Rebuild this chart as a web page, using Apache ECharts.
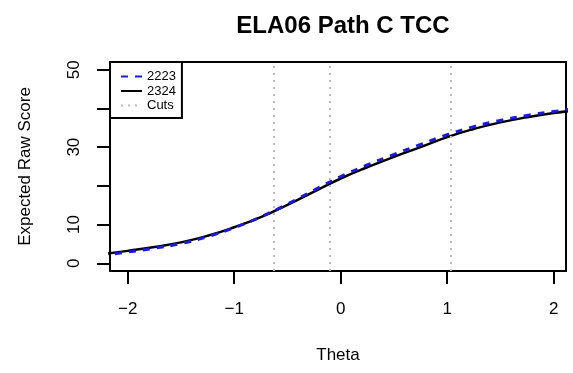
<!DOCTYPE html>
<html>
<head>
<meta charset="utf-8">
<script src="https://cdn.jsdelivr.net/npm/echarts@6/dist/echarts.min.js"></script>
<style>
html,body{margin:0;padding:0;background:#fff;}
#chart{width:573px;height:373px;}
</style>
</head>
<body>
<div id="chart"></div>
<script>
// Data
const theta = [-2.25, -2, -1.75, -1.5, -1.25, -1, -0.75, -0.5, -0.25, 0, 0.25, 0.5, 0.75, 1, 1.25, 1.5, 1.75, 2, 2.25];
const score2223 = [2.0, 2.9, 3.9, 5.1, 6.9, 9.2, 12.0, 15.3, 18.9, 22.4, 25.4, 28.1, 30.7, 33.2, 35.3, 36.9, 38.2, 39.2, 40.1];
const score2324 = [2.3, 3.2, 4.2, 5.4, 7.1, 9.3, 11.9, 15.1, 18.5, 21.9, 24.8, 27.5, 30.0, 32.6, 34.7, 36.4, 37.7, 38.8, 39.7];
const cuts = [-0.627, -0.1, 1.028];
const xTicks = [-2, -1, 0, 1, 2];
const yTicks = [0, 10, 20, 30, 40, 50];
const yTickLabels = [0, 10, 30, 50];
const seriesNames = ['2223', '2324', 'Cuts'];

const FONT = '"Liberation Sans", Arial, sans-serif';
const chart = echarts.init(document.getElementById('chart'), null, {renderer: 'canvas'});

const zip = (xs, ys) => xs.map((x, i) => [x, ys[i]]);

chart.setOption({
  animation: false,
  backgroundColor: '#fff',
  title: {
    text: 'ELA06 Path C TCC',
    left: 338, textAlign: 'center', top: 9,
    textStyle: {fontFamily: FONT, fontSize: 24, fontWeight: 'bold', color: '#000'}
  },
  grid: {
    left: 110, right: 7, top: 62, bottom: 102,
    show: true, borderColor: '#000', borderWidth: 2, backgroundColor: 'transparent'
  },
  legend: {
    orient: 'vertical', left: 110, top: 62,
    padding: [8, 6, 6, 10],
    itemWidth: 21, itemHeight: 12, itemGap: 1.5,
    borderColor: '#000', borderWidth: 2, borderRadius: 0,
    backgroundColor: '#fff',
    itemStyle: {opacity: 0},
    textStyle: {fontFamily: FONT, fontSize: 13, color: '#000'},
    data: seriesNames,
    z: 10
  },
  xAxis: {
    type: 'value', min: -2.167, max: 2.116,
    name: 'Theta', nameLocation: 'middle', nameGap: 76,
    nameTextStyle: {fontFamily: FONT, fontSize: 17, color: '#000'},
    axisLine: {show: false, onZero: false},
    splitLine: {show: false},
    axisTick: {show: true, inside: false, length: 13, customValues: xTicks, lineStyle: {color: '#000', width: 2}},
    axisLabel: {customValues: xTicks, margin: 30, fontFamily: FONT, fontSize: 17, color: '#000',
      formatter: v => (v < 0 ? '\u2212' + Math.abs(v) : String(v))}
  },
  yAxis: {
    type: 'value', min: -2, max: 52,
    name: 'Expected Raw Score', nameLocation: 'middle', nameGap: 76,
    nameTextStyle: {fontFamily: FONT, fontSize: 17, color: '#000'},
    axisLine: {show: false, onZero: false},
    splitLine: {show: false},
    axisTick: {show: true, inside: false, length: 13, customValues: yTicks, lineStyle: {color: '#000', width: 2}},
    axisLabel: {customValues: yTickLabels, rotate: 90, margin: 27, fontFamily: FONT, fontSize: 17, color: '#000'}
  },
  series: [
    {
      name: '2324', type: 'line', data: zip(theta, score2324), smooth: true,
      symbol: 'none', clip: true, z: 3,
      lineStyle: {color: '#000', width: 2.5, type: 'solid'},
      itemStyle: {color: '#000'}
    },
    {
      name: '2223', type: 'line', data: zip(theta, score2223), smooth: true,
      symbol: 'none', clip: true, z: 4,
      lineStyle: {color: '#1a1ad8', width: 3, type: [7, 7]},
      itemStyle: {color: '#1a1ad8'}
    },
    {
      name: 'Cuts', type: 'line', data: [], symbol: 'none', z: 2,
      lineStyle: {color: '#bdbdbd', width: 2, type: [2, 5]},
      itemStyle: {color: '#bdbdbd'},
      markLine: {
        silent: true, symbol: ['none', 'none'], label: {show: false},
        lineStyle: {color: '#bdbdbd', width: 2, type: [2, 5]},
        data: cuts.map(c => ({xAxis: c}))
      }
    }
  ]
});
</script>
</body>
</html>
